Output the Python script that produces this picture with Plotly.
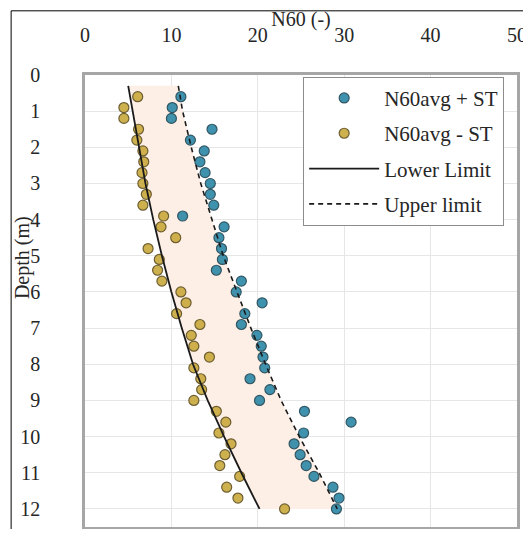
import plotly.graph_objects as go

# ---- data ----
depth_pts = [0.6, 0.9, 1.2, 1.5, 1.8, 2.1, 2.4, 2.7, 3.0, 3.3, 3.6, 3.9, 4.2, 4.5, 4.8,
             5.1, 5.4, 5.7, 6.0, 6.3, 6.6, 6.9, 7.2, 7.5, 7.8, 8.1, 8.4, 8.7, 9.0, 9.3,
             9.6, 9.9, 10.2, 10.5, 10.8, 11.1, 11.4, 11.7, 12.0]
n60_plus = [11.1, 10.1, 10.0, 14.7, 12.2, 13.8, 13.3, 13.9, 14.5, 14.5, 14.9, 11.3, 16.1,
            15.5, 15.8, 15.9, 15.2, 18.1, 17.5, 20.5, 18.5, 18.1, 19.9, 20.4, 20.6, 20.8,
            19.1, 21.4, 20.2, 25.4, 30.8, 25.3, 24.2, 24.9, 25.6, 26.5, 28.7, 29.4, 29.1]
n60_minus = [6.1, 4.5, 4.5, 6.2, 6.0, 6.7, 6.8, 6.6, 6.7, 7.1, 6.7, 9.1, 8.8, 10.5, 7.3,
             8.6, 8.4, 8.9, 11.1, 11.7, 10.6, 13.3, 12.3, 12.6, 14.4, 12.6, 13.4, 13.5,
             12.6, 15.2, 16.3, 15.5, 16.9, 16.2, 15.6, 17.9, 16.4, 17.7, 23.1]
depth_lim = [0.3, 1, 2, 3, 4, 5, 6, 7, 8, 9, 10, 11, 12]
lower_lim = [5.0, 5.5, 6.2, 7.0, 7.9, 8.9, 10.0, 11.2, 12.5, 14.2, 16.1, 18.1, 20.2]
upper_lim = [10.8, 11.3, 12.3, 13.4, 14.7, 16.0, 17.6, 19.2, 20.9, 22.7, 24.8, 27.1, 29.2]
x_ticks = [0, 10, 20, 30, 40, 50]
y_ticks = list(range(0, 13))

FONT = "Times New Roman, Liberation Serif, serif"
TXT = "#262626"

fig = go.Figure()

# shaded band between limits
fig.add_trace(go.Scatter(
    x=lower_lim + upper_lim[::-1], y=depth_lim + depth_lim[::-1],
    mode="lines", fill="toself", fillcolor="#fdefe6",
    line=dict(width=0), hoverinfo="skip", showlegend=False))

fig.add_trace(go.Scatter(
    x=n60_plus, y=depth_pts, mode="markers", name="N60avg + ST", legendgroup="a",
    marker=dict(size=10, color="#2b87a6", opacity=0.9,
                line=dict(color="#1c4654", width=1.2))))
fig.add_trace(go.Scatter(
    x=n60_minus, y=depth_pts, mode="markers", name="N60avg - ST", legendgroup="b",
    marker=dict(size=10, color="#c9a93c", opacity=0.9,
                line=dict(color="#5e4e1c", width=1.2))))
fig.add_trace(go.Scatter(
    x=lower_lim, y=depth_lim, mode="lines", name="Lower Limit", legendgroup="c",
    line=dict(color="#1a1a1a", width=1.8)))
fig.add_trace(go.Scatter(
    x=upper_lim, y=depth_lim, mode="lines", name="Upper limit", legendgroup="d",
    line=dict(color="#1a1a1a", width=1.6, dash="5px,4px")))

# page body adds an 8px margin, so the figure is sized to fit inside the window
fig.update_layout(
    width=523, height=521,
    margin=dict(l=77, r=14, t=67, b=2),
    paper_bgcolor="white", plot_bgcolor="white",
    font=dict(family=FONT, size=20, color=TXT),
    showlegend=True,
    legend=dict(x=0.505, y=0.996, xanchor="left", yanchor="top",
                bgcolor="white", bordercolor="#8c8c8c", borderwidth=1,
                font=dict(family=FONT, size=21, color=TXT),
                traceorder="grouped", tracegroupgap=5, itemwidth=70),
    xaxis=dict(side="top", range=[0, 50], tickvals=x_ticks, automargin=False,
               showgrid=True, gridcolor="#e6e6e6", gridwidth=1,
               zeroline=False, showline=True, linecolor="#a6a6a6", linewidth=2.5,
               mirror=True, ticks="", ticklabelstandoff=22,
               title=dict(text="N60 (-)", standoff=4,
                          font=dict(family=FONT, size=20, color=TXT))),
    yaxis=dict(range=[12.5, 0], tickvals=y_ticks, automargin=False,
               showgrid=True, gridcolor="#e6e6e6", gridwidth=1,
               zeroline=False, showline=True, linecolor="#a6a6a6", linewidth=2.5,
               mirror=True, ticks="", ticklabelstandoff=38),
    annotations=[dict(text="Depth (m)", textangle=-90, showarrow=False,
                      xref="paper", yref="paper", x=-0.146, y=0.597,
                      xanchor="center", yanchor="middle",
                      font=dict(family=FONT, size=20, color=TXT))],
    shapes=[dict(type="rect", xref="paper", yref="paper",
                 x0=-0.171, x1=1.06, y0=-0.05, y1=1.142,
                 line=dict(color="black", width=1), fillcolor="rgba(0,0,0,0)",
                 layer="above")],
)

fig.write_html("out.html")
